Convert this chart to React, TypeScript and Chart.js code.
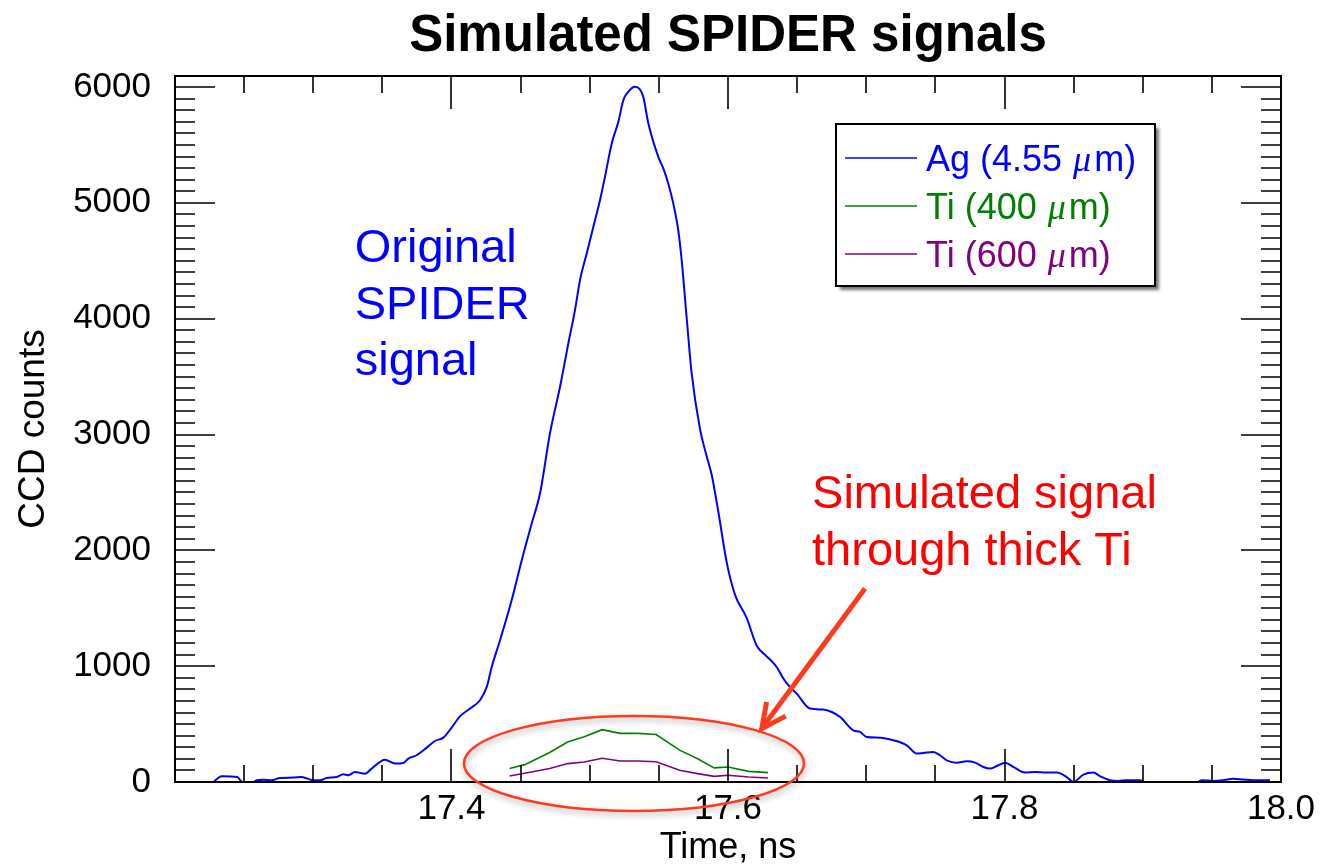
import React, { useEffect, useRef } from "react";
import { Chart, registerables } from "chart.js";

Chart.register(...registerables);

// Time axis (ns) and CCD counts for the original Ag-filtered SPIDER trace
const agTime = [
  17.2277, 17.2338, 17.2451, 17.2482, 17.2528, 17.2591, 17.2639, 17.2699, 17.2759, 17.2856,
  17.2916, 17.3, 17.3049, 17.3097, 17.317, 17.3217, 17.3254, 17.3302, 17.3374, 17.3423,
  17.3519, 17.3591, 17.3651, 17.3688, 17.3748, 17.3821, 17.3881, 17.3941, 17.4001, 17.4061,
  17.4134, 17.4206, 17.4255, 17.4291, 17.4351, 17.4435, 17.4508, 17.458, 17.464, 17.4712,
  17.4785, 17.4845, 17.4893, 17.4929, 17.4978, 17.5026, 17.5074, 17.511, 17.5159, 17.5207,
  17.5243, 17.5279, 17.5327, 17.5363, 17.5387, 17.5424, 17.5496, 17.5532, 17.5568, 17.5604,
  17.564, 17.5665, 17.5701, 17.5737, 17.5797, 17.5846, 17.5882, 17.593, 17.5991, 17.6051,
  17.6135, 17.6208, 17.628, 17.6352, 17.64, 17.6449, 17.6497, 17.6593, 17.6689, 17.675,
  17.6811, 17.6906, 17.6955, 17.7003, 17.7099, 17.7196, 17.7293, 17.7365, 17.7413, 17.7485,
  17.7533, 17.7582, 17.7654, 17.7727, 17.7787, 17.7847, 17.7895, 17.7944, 17.8004, 17.8064,
  17.8148, 17.8221, 17.8305, 17.8378, 17.845, 17.8498, 17.8571, 17.8643, 17.8691, 17.8763,
  17.8823, 17.8884, 17.898, 17.9038, 17.9197, 17.9378, 17.9426, 17.951, 17.9582, 17.9655,
  17.9727, 17.98, 17.992,
];
const agCounts = [
  0, 50, 43, 0, -30, 15, 20, 15, 35, 38,
  43, 15, 15, 35, 43, 66, 58, 86, 72, 116,
  193, 159, 164, 202, 231, 297, 354, 383, 470, 567,
  634, 706, 821, 993, 1224, 1569, 1915, 2231, 2490, 3009,
  3412, 3786, 4073, 4330, 4563, 4793, 5023, 5224, 5513, 5700,
  5887, 5959, 6002, 5979, 5915, 5685, 5397, 5297, 5167, 4995,
  4764, 4505, 4008, 3530, 3051, 2812, 2652, 2333, 1894, 1616,
  1416, 1176, 1085, 993, 893, 818, 763, 634, 625, 604,
  561, 446, 432, 389, 383, 360, 317, 245, 250, 259,
  231, 187, 167, 179, 167, 130, 116, 138, 167, 130,
  81, 86, 81, 81, 43, 0, 64, 81, 50, 15,
  9, 15, 15, -20, -40, -20, 15, 9, 15, 29,
  21, 15, 15,
];

// Simulated traces through thick Ti filters (coarser time grid)
const tiTime = [
  17.442, 17.453, 17.471, 17.484, 17.496, 17.509, 17.522, 17.535, 17.548, 17.565,
  17.578, 17.59, 17.6, 17.615, 17.629,
];
const ti400Counts = [116, 150, 255, 345, 390, 452, 420, 420, 410, 275, 200, 122, 130, 92, 81];
const ti600Counts = [52, 75, 116, 159, 173, 205, 181, 181, 175, 101, 72, 49, 58, 43, 35];

const seriesLabels = ["Ag (4.55 μm)", "Ti (400 μm)", "Ti (600 μm)"];
const seriesColors = ["#0000ff", "#008000", "#800080"];

const xTickValues = [17.4, 17.6, 17.8, 18.0];
const yTickValues = [0, 1000, 2000, 3000, 4000, 5000, 6000];

const X_MIN = 17.2;
const X_MAX = 18.0;
const Y_MIN = 0;
const Y_MAX = 6095;

const FONT = "'Liberation Sans', Arial, Helvetica, sans-serif";
const ANNOT_RED = "#ff3b1f";

// Draws a label, setting any "μ" in italic
function drawMixed(ctx: CanvasRenderingContext2D, text: string, x: number, y: number, size: number) {
  const parts = text.split("μ");
  let cx = x;
  parts.forEach((p, i) => {
    ctx.font = `${size}px ${FONT}`;
    ctx.fillText(p, cx, y);
    cx += ctx.measureText(p).width;
    if (i < parts.length - 1) {
      ctx.font = `italic ${size}px 'Liberation Serif', 'DejaVu Serif', serif`;
      ctx.fillText("μ", cx + 1, y);
      cx += ctx.measureText("μ").width + 4;
    }
  });
}

const overlayPlugin = {
  id: "overlay",
  afterDraw(chart: any) {
    const { ctx, chartArea: a, scales } = chart;
    const xs = scales.x;
    const ys = scales.y;
    ctx.save();

    // Plot frame
    ctx.strokeStyle = "#000";
    ctx.lineWidth = 2;
    ctx.strokeRect(a.left, a.top, a.right - a.left, a.bottom - a.top);

    // Inward ticks on all four sides
    ctx.lineWidth = 1.6;
    ctx.beginPath();
    for (let i = 0; i <= 16; i++) {
      const px = Math.round(xs.getPixelForValue(X_MIN + i * 0.05));
      const len = i % 4 === 0 ? 33 : 17;
      ctx.moveTo(px, a.bottom);
      ctx.lineTo(px, a.bottom - len);
      ctx.moveTo(px, a.top);
      ctx.lineTo(px, a.top + len);
    }
    for (let i = 0; i * 100 <= Y_MAX; i++) {
      const py = Math.round(ys.getPixelForValue(i * 100));
      const len = i % 10 === 0 ? 40 : 20;
      ctx.moveTo(a.left, py);
      ctx.lineTo(a.left + len, py);
      ctx.moveTo(a.right, py);
      ctx.lineTo(a.right - len, py);
    }
    ctx.stroke();

    // Title
    ctx.fillStyle = "#000";
    ctx.textAlign = "center";
    ctx.textBaseline = "alphabetic";
    ctx.font = `bold 51px ${FONT}`;
    ctx.fillText("Simulated SPIDER signals", (a.left + a.right) / 2, 51);

    // Axis titles
    ctx.font = `36px ${FONT}`;
    ctx.fillText("Time, ns", (a.left + a.right) / 2, 858);
    ctx.save();
    ctx.translate(44, (a.top + a.bottom) / 2);
    ctx.rotate(-Math.PI / 2);
    ctx.font = `37px ${FONT}`;
    ctx.fillText("CCD counts", 0, 0);
    ctx.restore();

    // Annotation: original signal
    ctx.textAlign = "left";
    ctx.fillStyle = "#0000ff";
    ctx.font = `47px ${FONT}`;
    const ox = xs.getPixelForValue(17.33);
    const oy = ys.getPixelForValue(4488);
    ["Original", "SPIDER", "signal"].forEach((s, i) => ctx.fillText(s, ox, oy + i * 56.5));

    // Annotation: simulated signal
    ctx.fillStyle = "#ff0000";
    const sx = xs.getPixelForValue(17.6608);
    const sy = ys.getPixelForValue(2363);
    ["Simulated signal", "through thick Ti"].forEach((s, i) => ctx.fillText(s, sx, sy + i * 57));

    // Ellipse around the Ti traces
    const ecx = xs.getPixelForValue(17.532);
    const ecy = ys.getPixelForValue(160);
    const erx = xs.getPixelForValue(17.532 + 0.123) - ecx;
    const ery = ecy - ys.getPixelForValue(160 + 410);
    ctx.save();
    ctx.shadowColor = "rgba(0,0,0,0.35)";
    ctx.shadowBlur = 6;
    ctx.shadowOffsetX = 1;
    ctx.shadowOffsetY = 3;
    ctx.strokeStyle = ANNOT_RED;
    ctx.lineWidth = 2.5;
    ctx.beginPath();
    ctx.ellipse(ecx, ecy, erx, ery, 0, 0, Math.PI * 2);
    ctx.stroke();
    ctx.restore();

    // Arrow pointing at the ellipse
    const tx0 = xs.getPixelForValue(17.6991);
    const ty0 = ys.getPixelForValue(1670);
    const tx1 = xs.getPixelForValue(17.6244);
    const ty1 = ys.getPixelForValue(461);
    const ang = Math.atan2(ty0 - ty1, tx0 - tx1);
    const head = 27;
    const spread = (26 * Math.PI) / 180;
    ctx.strokeStyle = ANNOT_RED;
    ctx.lineWidth = 5;
    ctx.lineCap = "butt";
    ctx.beginPath();
    ctx.moveTo(tx0, ty0);
    ctx.lineTo(tx1, ty1);
    ctx.moveTo(tx1 + head * Math.cos(ang - spread), ty1 + head * Math.sin(ang - spread));
    ctx.lineTo(tx1, ty1);
    ctx.lineTo(tx1 + head * Math.cos(ang + spread), ty1 + head * Math.sin(ang + spread));
    ctx.stroke();

    // Legend box
    const lx = a.right - 445;
    const ly = a.top + 48;
    const lw = 319;
    const lh = 162;
    ctx.save();
    ctx.shadowColor = "rgba(0,0,0,0.55)";
    ctx.shadowBlur = 3;
    ctx.shadowOffsetX = 4;
    ctx.shadowOffsetY = 4;
    ctx.fillStyle = "#fff";
    ctx.fillRect(lx, ly, lw, lh);
    ctx.restore();
    ctx.strokeStyle = "#000";
    ctx.lineWidth = 2;
    ctx.strokeRect(lx, ly, lw, lh);
    chart.data.datasets.forEach((ds: any, i: number) => {
      const rowY = ly + 34 + i * 48;
      ctx.strokeStyle = ds.borderColor;
      ctx.lineWidth = 1.5;
      ctx.beginPath();
      ctx.moveTo(lx + 9, rowY);
      ctx.lineTo(lx + 81, rowY);
      ctx.stroke();
      ctx.fillStyle = ds.borderColor;
      ctx.textAlign = "left";
      drawMixed(ctx, ds.label, lx + 90, rowY + 13, 36);
    });

    ctx.restore();
  },
};

export default function App() {
  const canvasRef = useRef<HTMLCanvasElement>(null);

  useEffect(() => {
    const canvas = canvasRef.current;
    if (!canvas) return;
    const toPoints = (xs: number[], ys: number[]) => xs.map((x, i) => ({ x, y: ys[i] }));
    const chart = new Chart(canvas, {
      type: "line",
      data: {
        datasets: [
          {
            label: seriesLabels[0],
            data: toPoints(agTime, agCounts),
            borderColor: seriesColors[0],
            borderWidth: 2,
            pointRadius: 0,
            fill: false,
            cubicInterpolationMode: "monotone",
          },
          {
            label: seriesLabels[1],
            data: toPoints(tiTime, ti400Counts),
            borderColor: seriesColors[1],
            borderWidth: 1.6,
            pointRadius: 0,
            fill: false,
          },
          {
            label: seriesLabels[2],
            data: toPoints(tiTime, ti600Counts),
            borderColor: seriesColors[2],
            borderWidth: 1.6,
            pointRadius: 0,
            fill: false,
          },
        ],
      },
      options: {
        responsive: false,
        animation: false,
        devicePixelRatio: 1,
        layout: { padding: { top: 76, right: 48, left: 0, bottom: 0 } },
        plugins: {
          legend: { display: false },
          title: { display: false },
          tooltip: { enabled: false },
        },
        scales: {
          x: {
            type: "linear",
            min: X_MIN,
            max: X_MAX,
            grid: { display: false, drawTicks: false },
            border: { display: false },
            afterBuildTicks: (s: any) => {
              s.ticks = xTickValues.map((v) => ({ value: v }));
            },
            afterFit: (s: any) => {
              s.height = 84;
            },
            ticks: {
              autoSkip: false,
              maxRotation: 0,
              padding: 6,
              color: "#000",
              font: { family: FONT, size: 35 },
              callback: (v: any) => Number(v).toFixed(1),
            },
          },
          y: {
            type: "linear",
            min: Y_MIN,
            max: Y_MAX,
            grid: { display: false, drawTicks: false },
            border: { display: false },
            afterBuildTicks: (s: any) => {
              s.ticks = yTickValues.map((v) => ({ value: v }));
            },
            afterFit: (s: any) => {
              s.width = 175;
            },
            ticks: {
              autoSkip: false,
              padding: 24,
              color: "#000",
              font: { family: FONT, size: 35 },
              callback: (v: any) => String(v),
            },
          },
        },
      },
      plugins: [overlayPlugin],
    });
    return () => chart.destroy();
  }, []);

  return (
    <div style={{ position: "fixed", left: 0, top: 0, width: 1329, height: 866, background: "#fff" }}>
      <canvas ref={canvasRef} width={1329} height={866} style={{ display: "block" }} />
    </div>
  );
}
